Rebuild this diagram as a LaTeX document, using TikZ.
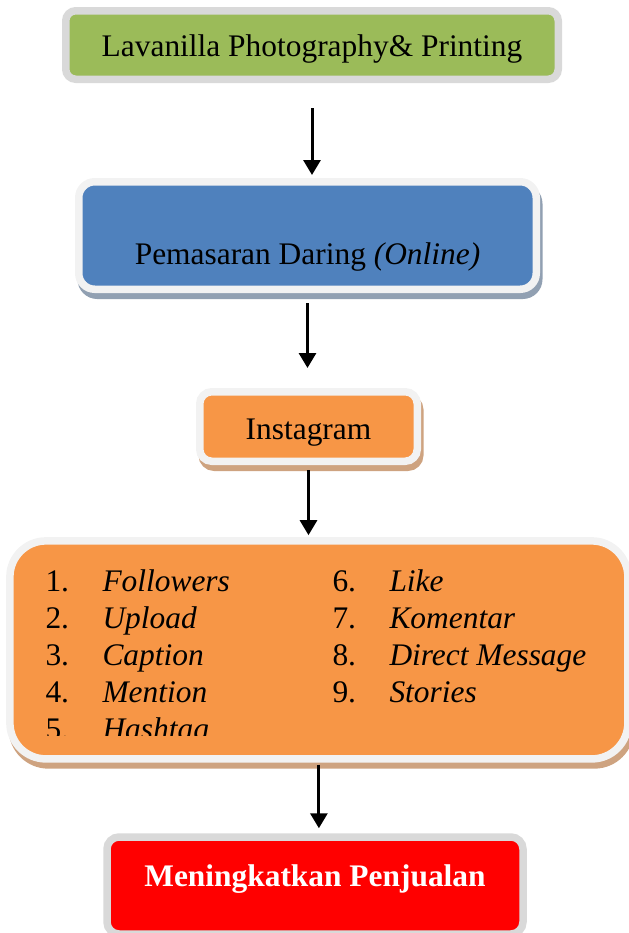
\documentclass[tikz,border=0pt]{standalone}
\usepackage{fontspec}
\setmainfont{Liberation Serif}
\usetikzlibrary{arrows.meta}

\definecolor{lavagreen}{RGB}{155,187,89}
\definecolor{daringblue}{RGB}{79,129,189}
\definecolor{instaorange}{RGB}{247,150,70}
\definecolor{borderlight}{RGB}{242,242,242}
\definecolor{bordergray}{RGB}{217,217,217}
\definecolor{blueshadow}{RGB}{145,160,178}
\definecolor{orangeshadow}{RGB}{206,163,128}

\def\px{0.382pt}

\begin{document}
\begin{tikzpicture}[
    x=\px, y=-\px,
    boxnode/.style={rectangle, inner sep=0pt, line width=7.5*\px, text depth=0pt, font=\fontsize{12}{14}\selectfont},
    plainbox/.style={boxnode, draw=bordergray},
    shadowbox/.style={boxnode, draw=borderlight,
        preaction={draw=#1, fill=#1, line width=7.5*\px, transform canvas={xshift=2.5*\px, yshift=-6*\px}}},
    listnode/.style={anchor=base west, inner sep=0pt, font=\fontsize{12}{14}\selectfont},
    flow/.style={line width=3*\px, -{Triangle[width=17*\px, length=15*\px]}},
]

    \useasboundingbox (0,0) rectangle (629,933);

    % boxes from top to bottom
    \node[plainbox, fill=lavagreen, minimum width=492.5*\px, minimum height=68.5*\px,
        rounded corners=10*\px, text height=8.8pt] (lavanilla) at (312,45) {Lavanilla Photography\& Printing};

    \node[shadowbox=blueshadow, fill=daringblue, minimum width=457.5*\px, minimum height=107.5*\px,
        rounded corners=16*\px, text height=22.5pt] (daring) at (307.5,235.5) {Pemasaran Daring \textit{(Online)}};

    \node[shadowbox=orangeshadow, fill=instaorange, minimum width=217.5*\px, minimum height=69.5*\px,
        rounded corners=12*\px, text height=10.3pt] (instagram) at (308.5,426.5) {Instagram};

    \node[shadowbox=orangeshadow, fill=instaorange, minimum width=618*\px, minimum height=218*\px,
        rounded corners=36*\px] (fitur) at (318.9,649.9) {};

    \node[plainbox, fill=red, text=white, font=\fontsize{12}{14}\selectfont\bfseries,
        minimum width=416*\px, minimum height=97*\px,
        rounded corners=12*\px, text height=0.4pt] (penjualan) at (315,885.5) {Meningkatkan Penjualan};

    % list of instagram features (last line cut off)
    \begin{scope}
        \clip (0,540) rectangle (629,735);
        \foreach \n/\entry/\posX/\posY in {
        1/Followers/45/591,
        2/Upload/45/628,
        3/Caption/45/665,
        4/Mention/45/702,
        5/Hashtag/45/739,
        6/Like/332/591,
        7/Komentar/332/628,
        8/Direct Message/332/665,
        9/Stories/332/702}
        {
            \node[listnode] (num_\n) at (\posX,\posY) {\n.};
            \node[listnode, font=\fontsize{12}{14}\selectfont\itshape] (entry_\n) at (\posX+57,\posY) {\entry};
        }
    \end{scope}

    % arrows between the boxes
    \foreach \from/\to/\gapA/\gapB in {
    lavanilla/daring/25/3,
    daring/instagram/10/20,
    instagram/fitur/5/2,
    fitur/penjualan/2/5}
    {
        \draw[flow, shorten <=\gapA*\px, shorten >=\gapB*\px] (\from.south) -- (\from.south |- \to.north);
    }

\end{tikzpicture}
\end{document}
